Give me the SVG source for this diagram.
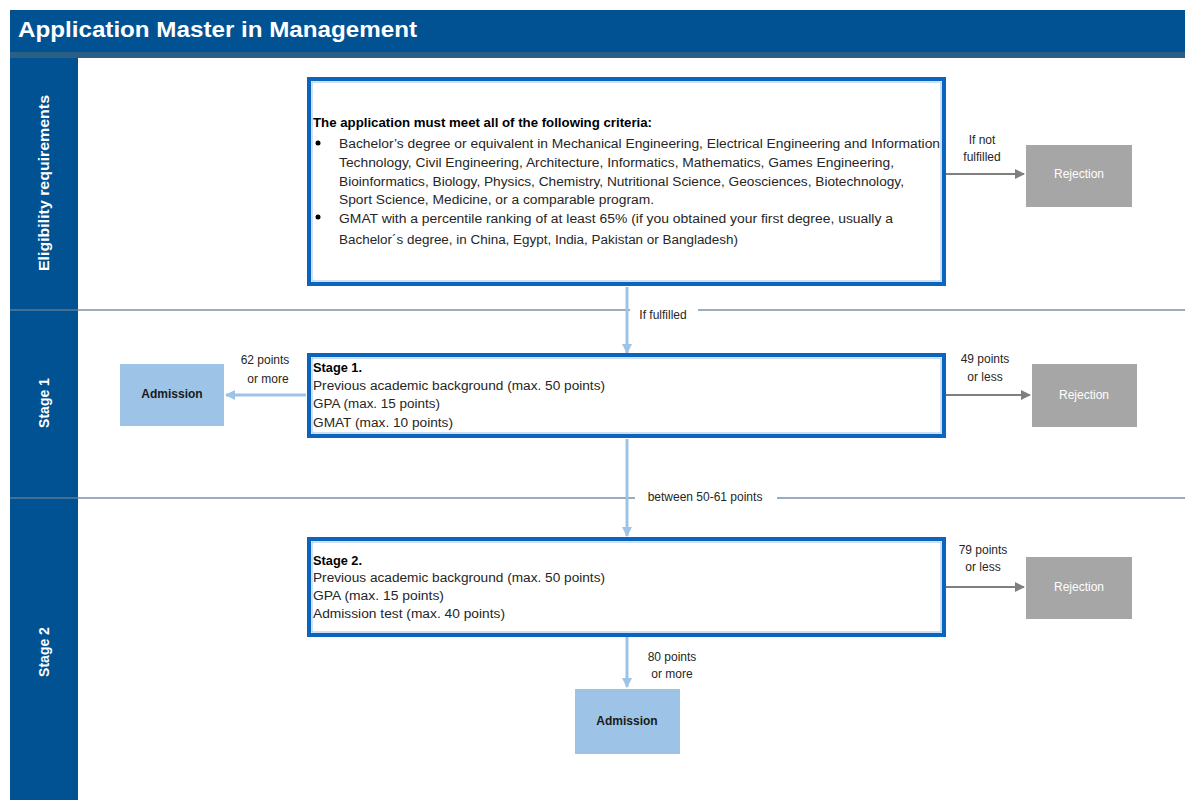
<svg xmlns="http://www.w3.org/2000/svg" width="1185" height="800" viewBox="0 0 1185 800">
<defs>
<marker id="ab" markerWidth="10" markerHeight="10" refX="9" refY="5" orient="auto" markerUnits="userSpaceOnUse"><path d="M0,0 L10,5 L0,10 z" fill="#9dc3e6"/></marker>
<marker id="ag" markerWidth="10" markerHeight="10" refX="9" refY="5" orient="auto" markerUnits="userSpaceOnUse"><path d="M0,0 L10,5 L0,10 z" fill="#7f7f7f"/></marker>
<style>
.t{font-family:"Liberation Sans",Arial,sans-serif;font-size:12px;fill:#262626}
.b{font-weight:bold;fill:#000}
.lbl{font-family:"Liberation Sans",Arial,sans-serif;font-size:12px;fill:#262626;text-anchor:middle}
.lane{font-family:"Liberation Sans",Arial,sans-serif;font-size:14px;font-weight:bold;fill:#fff;text-anchor:middle}
.box{fill:#fff;stroke:#0a64c0;stroke-width:4}
.inner{fill:none;stroke:#9dc3e6;stroke-width:1}
.rej{fill:#a6a6a6}
.rejt{font-family:"Liberation Sans",Arial,sans-serif;font-size:12px;fill:#fff;text-anchor:middle}
.adm{fill:#9dc3e6}
.admt{font-family:"Liberation Sans",Arial,sans-serif;font-size:12px;font-weight:bold;fill:#1a1a1a;text-anchor:middle}
.cb{stroke:#9dc3e6;stroke-width:3;fill:none}
.cg{stroke:#7f7f7f;stroke-width:2;fill:none}
</style>
</defs>
<rect width="1185" height="800" fill="#fff"/>
<g id="header">
<rect x="10" y="10" width="1175" height="42" fill="#005293"/>
<rect x="10" y="52" width="1175" height="6" fill="#2b5f86"/>
<text x="18" y="37" font-family="Liberation Sans,Arial,sans-serif" font-size="22" font-weight="bold" fill="#fff" textLength="399" lengthAdjust="spacingAndGlyphs">Application Master in Management</text>
</g>
<g id="lanes">
<rect x="10" y="58" width="68" height="742" fill="#005293"/>
<line x1="10" y1="310" x2="1185" y2="310" stroke="#7892a8" stroke-width="1.5"/>
<line x1="10" y1="498" x2="1185" y2="498" stroke="#7892a8" stroke-width="1.5"/>
<line x1="10" y1="310" x2="78" y2="310" stroke="#3d6b90" stroke-width="1.5"/>
<line x1="10" y1="498" x2="78" y2="498" stroke="#3d6b90" stroke-width="1.5"/>
<text class="lane" transform="translate(49,183) rotate(-90)" textLength="176" lengthAdjust="spacingAndGlyphs">Eligibility requirements</text>
<text class="lane" transform="translate(49,403) rotate(-90)">Stage 1</text>
<text class="lane" transform="translate(49,652) rotate(-90)">Stage 2</text>
</g>
<g id="connectors">
<line class="cg" x1="946" y1="174" x2="1024" y2="174" marker-end="url(#ag)"/>
<line class="cb" x1="627" y1="287" x2="627" y2="353" marker-end="url(#ab)"/>
<line class="cb" x1="306" y1="395" x2="226" y2="395" marker-end="url(#ab)"/>
<line class="cg" x1="946" y1="395" x2="1030" y2="395" marker-end="url(#ag)"/>
<line class="cb" x1="627" y1="439" x2="627" y2="536" marker-end="url(#ab)"/>
<line class="cg" x1="946" y1="587" x2="1024" y2="587" marker-end="url(#ag)"/>
<line class="cb" x1="627" y1="637" x2="627" y2="687" marker-end="url(#ab)"/>
<rect x="630" y="307" width="68" height="14" fill="#fff"/>
<text class="lbl" x="663" y="319">If  fulfilled</text>
<rect x="635" y="491" width="142" height="14" fill="#fff"/>
<text class="lbl" x="705" y="501">between 50-61 points</text>
<text class="lbl" x="982" y="144">If not</text>
<text class="lbl" x="982" y="161">fulfilled</text>
<text class="lbl" x="265" y="364">62 points</text>
<text class="lbl" x="268" y="383">or more</text>
<text class="lbl" x="985" y="363">49 points</text>
<text class="lbl" x="985" y="381">or less</text>
<text class="lbl" x="983" y="554">79 points</text>
<text class="lbl" x="983" y="571">or less</text>
<text class="lbl" x="672" y="661">80 points</text>
<text class="lbl" x="672" y="678">or more</text>
</g>
<g id="eligibility">
<rect class="box" x="309" y="79" width="635" height="205"/>
<rect class="inner" x="312" y="82" width="629" height="199"/>
<text class="t b" x="313" y="127" textLength="339" lengthAdjust="spacingAndGlyphs">The application must meet all of the following criteria:</text>
<circle cx="318" cy="143" r="2.5" fill="#000"/>
<circle cx="318" cy="217" r="2.5" fill="#000"/>
<text class="t" x="339" y="148" textLength="601" lengthAdjust="spacingAndGlyphs">Bachelor’s degree or equivalent in Mechanical Engineering, Electrical Engineering and Information</text>
<text class="t" x="339" y="167" textLength="555" lengthAdjust="spacingAndGlyphs">Technology, Civil Engineering, Architecture, Informatics, Mathematics, Games Engineering,</text>
<text class="t" x="339" y="186" textLength="565" lengthAdjust="spacingAndGlyphs">Bioinformatics, Biology, Physics, Chemistry, Nutritional Science, Geosciences, Biotechnology,</text>
<text class="t" x="339" y="204" textLength="315" lengthAdjust="spacingAndGlyphs">Sport Science, Medicine, or a comparable program.</text>
<text class="t" x="339" y="223" textLength="554" lengthAdjust="spacingAndGlyphs">GMAT with a percentile ranking of at least 65% (if you obtained your first degree, usually a</text>
<text class="t" x="339" y="244" textLength="399" lengthAdjust="spacingAndGlyphs">Bachelor´s degree, in China, Egypt, India, Pakistan or Bangladesh)</text>
</g>
<g id="rejection1">
<rect class="rej" x="1026" y="145" width="106" height="62"/>
<text class="rejt" x="1079" y="178">Rejection</text>
</g>
<g id="stage1">
<rect class="box" x="309" y="355" width="635" height="81"/>
<rect class="inner" x="312" y="358" width="629" height="75"/>
<text class="t b" x="313" y="372" textLength="49" lengthAdjust="spacingAndGlyphs">Stage 1.</text>
<text class="t" x="313" y="390" textLength="292" lengthAdjust="spacingAndGlyphs">Previous academic background (max. 50 points)</text>
<text class="t" x="313" y="408" textLength="127" lengthAdjust="spacingAndGlyphs">GPA (max. 15 points)</text>
<text class="t" x="313" y="427" textLength="140" lengthAdjust="spacingAndGlyphs">GMAT (max. 10 points)</text>
</g>
<g id="admission1">
<rect class="adm" x="120" y="364" width="104" height="62"/>
<text class="admt" x="172" y="398">Admission</text>
</g>
<g id="rejection2">
<rect class="rej" x="1032" y="364" width="105" height="63"/>
<text class="rejt" x="1084" y="399">Rejection</text>
</g>
<g id="stage2">
<rect class="box" x="309" y="539" width="635" height="96"/>
<rect class="inner" x="312" y="542" width="629" height="90"/>
<text class="t b" x="313" y="565" textLength="49" lengthAdjust="spacingAndGlyphs">Stage 2.</text>
<text class="t" x="313" y="582" textLength="292" lengthAdjust="spacingAndGlyphs">Previous academic background (max. 50 points)</text>
<text class="t" x="313" y="600" textLength="131" lengthAdjust="spacingAndGlyphs">GPA (max. 15 points)</text>
<text class="t" x="313" y="618" textLength="192" lengthAdjust="spacingAndGlyphs">Admission test (max. 40 points)</text>
</g>
<g id="rejection3">
<rect class="rej" x="1026" y="557" width="106" height="62"/>
<text class="rejt" x="1079" y="591">Rejection</text>
</g>
<g id="admission2">
<rect class="adm" x="575" y="689" width="105" height="65"/>
<text class="admt" x="627" y="725">Admission</text>
</g>
</svg>
